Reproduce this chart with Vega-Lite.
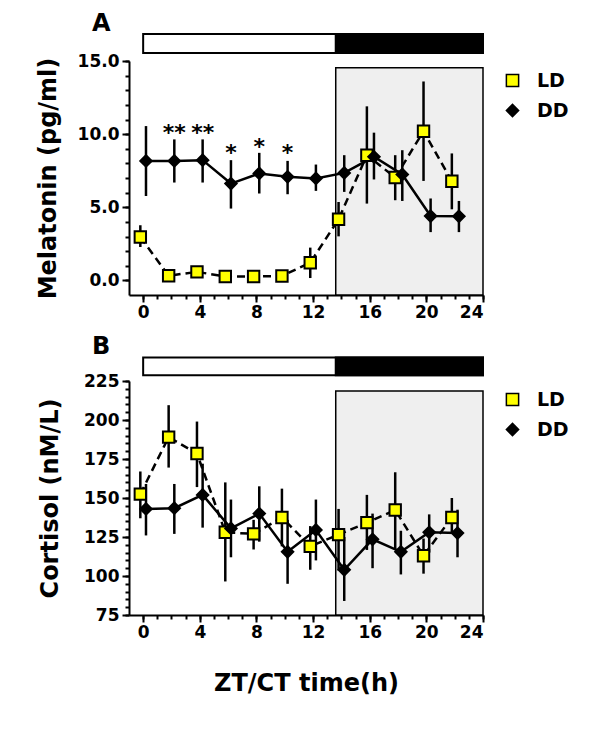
{
  "$schema": "https://vega.github.io/schema/vega-lite/v6.json",
  "background": "white",
  "padding": {"left": 36, "top": 11, "right": 5, "bottom": 5},
  "spacing": 86,
  "bounds": "flush",
  "datasets": {
    "mel": [
      {"group": "LD", "t": -0.2, "v": 2.97, "lo": 2.28, "hi": 3.77},
      {"group": "LD", "t": 1.8, "v": 0.32, "lo": 0.12, "hi": 0.52},
      {"group": "LD", "t": 3.8, "v": 0.58, "lo": 0.38, "hi": 0.8},
      {"group": "LD", "t": 5.8, "v": 0.27, "lo": 0.1, "hi": 0.45},
      {"group": "LD", "t": 7.8, "v": 0.27, "lo": 0.1, "hi": 0.45},
      {"group": "LD", "t": 9.8, "v": 0.3, "lo": 0.1, "hi": 0.5},
      {"group": "LD", "t": 11.8, "v": 1.21, "lo": 0.16, "hi": 2.24},
      {"group": "LD", "t": 13.8, "v": 4.18, "lo": 3.01, "hi": 5.36},
      {"group": "LD", "t": 15.8, "v": 8.56, "lo": 5.25, "hi": 11.9},
      {"group": "LD", "t": 17.8, "v": 7.03, "lo": 5.48, "hi": 8.56},
      {"group": "LD", "t": 19.8, "v": 10.2, "lo": 6.8, "hi": 13.6},
      {"group": "LD", "t": 21.8, "v": 6.78, "lo": 4.86, "hi": 8.68},
      {"group": "DD", "t": 0.2, "v": 8.17, "lo": 5.77, "hi": 10.55},
      {"group": "DD", "t": 2.2, "v": 8.17, "lo": 6.69, "hi": 9.64},
      {"group": "DD", "t": 4.2, "v": 8.22, "lo": 6.69, "hi": 9.64},
      {"group": "DD", "t": 6.2, "v": 6.62, "lo": 4.91, "hi": 8.22},
      {"group": "DD", "t": 8.2, "v": 7.31, "lo": 5.94, "hi": 8.72},
      {"group": "DD", "t": 10.2, "v": 7.08, "lo": 5.89, "hi": 8.17},
      {"group": "DD", "t": 12.2, "v": 6.97, "lo": 6.12, "hi": 7.92},
      {"group": "DD", "t": 14.2, "v": 7.35, "lo": 6.05, "hi": 8.56},
      {"group": "DD", "t": 16.3, "v": 8.45, "lo": 6.9, "hi": 10.1},
      {"group": "DD", "t": 18.3, "v": 7.24, "lo": 5.43, "hi": 8.9},
      {"group": "DD", "t": 20.3, "v": 4.4, "lo": 3.3, "hi": 5.6},
      {"group": "DD", "t": 22.3, "v": 4.38, "lo": 3.3, "hi": 5.43}
    ],
    "cort": [
      {"group": "LD", "t": -0.2, "v": 152.5, "lo": 137, "hi": 167},
      {"group": "LD", "t": 1.8, "v": 189, "lo": 169.5, "hi": 209.5},
      {"group": "LD", "t": 3.8, "v": 178.5, "lo": 157, "hi": 199},
      {"group": "LD", "t": 5.8, "v": 128, "lo": 96.5, "hi": 160},
      {"group": "LD", "t": 7.8, "v": 127, "lo": 117, "hi": 136},
      {"group": "LD", "t": 9.8, "v": 137.5, "lo": 119, "hi": 156},
      {"group": "LD", "t": 11.8, "v": 119, "lo": 104, "hi": 132},
      {"group": "LD", "t": 13.8, "v": 126.5, "lo": 103.5, "hi": 143},
      {"group": "LD", "t": 15.8, "v": 134.2, "lo": 116.7, "hi": 152},
      {"group": "LD", "t": 17.8, "v": 142.3, "lo": 117, "hi": 166.5},
      {"group": "LD", "t": 19.8, "v": 113, "lo": 101.5, "hi": 124},
      {"group": "LD", "t": 21.8, "v": 137.5, "lo": 128, "hi": 150},
      {"group": "DD", "t": 0.2, "v": 143, "lo": 126, "hi": 159},
      {"group": "DD", "t": 2.2, "v": 143.5, "lo": 127, "hi": 159},
      {"group": "DD", "t": 4.2, "v": 152, "lo": 131, "hi": 172},
      {"group": "DD", "t": 6.2, "v": 130.5, "lo": 112, "hi": 149},
      {"group": "DD", "t": 8.2, "v": 140, "lo": 122, "hi": 157.5},
      {"group": "DD", "t": 10.2, "v": 115.5, "lo": 95, "hi": 136},
      {"group": "DD", "t": 12.2, "v": 129.5, "lo": 110, "hi": 149},
      {"group": "DD", "t": 14.2, "v": 104, "lo": 84, "hi": 125},
      {"group": "DD", "t": 16.2, "v": 123.5, "lo": 105, "hi": 140},
      {"group": "DD", "t": 18.2, "v": 115.5, "lo": 101, "hi": 129},
      {"group": "DD", "t": 20.2, "v": 128, "lo": 115, "hi": 139.5},
      {"group": "DD", "t": 22.2, "v": 127.5, "lo": 112, "hi": 142.5}
    ],
    "stars": [
      {"t": 2.2, "y": 10.43, "s": "**"},
      {"t": 4.2, "y": 10.43, "s": "**"},
      {"t": 6.2, "y": 9.06, "s": "*"},
      {"t": 8.2, "y": 9.43, "s": "*"},
      {"t": 10.2, "y": 9.02, "s": "*"}
    ]
  },
  "resolve": {"scale": {"fill": "independent", "shape": "independent"}},
  "vconcat": [
    {
      "width": 354,
      "height": 234,
      "title": {"text": "A", "anchor": "start", "frame": "group", "dx": -37, "offset": -3},
      "resolve": {"axis": {"x": "independent", "y": "independent"}},
      "layer": [
        {
          "data": {"values": [{}]},
          "mark": {"type": "rect", "fill": "#efefef", "stroke": "black", "strokeWidth": 1.5},
          "encoding": {
            "x": {"datum": 13.6, "type": "quantitative", "scale": {"domain": [-1, 24], "nice": false, "zero": false},
                  "axis": {"orient": "bottom", "values": [0,1,2,3,4,5,6,7,8,9,10,11,12,13,14,15,16,17,18,19,20,21,22,23,24], "tickSize": 4, "labels": false, "domain": false, "title": null}},
            "x2": {"datum": 24},
            "y": {"datum": -1, "type": "quantitative", "scale": {"domain": [-1, 15], "nice": false, "zero": false},
                  "axis": {"orient": "left", "values": [0,1,2,3,4,5,6,7,8,9,10,11,12,13,14,15], "tickSize": 4, "labels": false, "domain": false, "title": null}},
            "y2": {"datum": 14.54}
          }
        },
        {
          "data": {"values": [{}]},
          "mark": {"type": "rect", "fill": "white", "stroke": "black", "strokeWidth": 2},
          "encoding": {
            "x": {"datum": 0, "type": "quantitative", "axis": null},
            "x2": {"datum": 24},
            "y": {"datum": 16.85, "type": "quantitative", "axis": null},
            "y2": {"datum": 15.55}
          }
        },
        {
          "data": {"values": [{}]},
          "mark": {"type": "rect", "fill": "black", "stroke": "black", "strokeWidth": 2},
          "encoding": {
            "x": {"datum": 13.6, "type": "quantitative", "axis": null},
            "x2": {"datum": 24},
            "y": {"datum": 16.85, "type": "quantitative", "axis": null},
            "y2": {"datum": 15.55}
          }
        },
        {
          "data": {"name": "mel"},
          "mark": {"type": "rule", "color": "black", "strokeWidth": 2.5},
          "encoding": {
            "x": {"field": "t", "type": "quantitative",
                  "axis": {"orient": "bottom", "values": [0,4,8,12,16,20,24], "tickSize": 7, "labelPadding": 2, "title": null}},
            "y": {"field": "lo", "type": "quantitative",
                  "axis": {"orient": "left", "values": [0,5,10,15], "format": ".1f", "tickSize": 7, "labelPadding": 3, "title": "Melatonin (pg/ml)", "titlePadding": 17}},
            "y2": {"field": "hi"}
          }
        },
        {
          "data": {"name": "mel"},
          "transform": [{"filter": "datum.group === 'LD'"}],
          "mark": {"type": "line", "color": "black", "strokeWidth": 2.5, "strokeDash": [8, 5]},
          "encoding": {
            "x": {"field": "t", "type": "quantitative", "axis": null},
            "y": {"field": "v", "type": "quantitative", "axis": null}
          }
        },
        {
          "data": {"name": "mel"},
          "transform": [{"filter": "datum.group === 'DD'"}],
          "mark": {"type": "line", "color": "black", "strokeWidth": 2.5},
          "encoding": {
            "x": {"field": "t", "type": "quantitative", "axis": null},
            "y": {"field": "v", "type": "quantitative", "axis": null}
          }
        },
        {
          "data": {"name": "mel"},
          "mark": {"type": "point", "filled": true, "stroke": "black", "strokeWidth": 2, "size": 130, "opacity": 1},
          "encoding": {
            "x": {"field": "t", "type": "quantitative", "axis": null},
            "y": {"field": "v", "type": "quantitative", "axis": null},
            "shape": {"field": "group", "type": "nominal", "scale": {"domain": ["LD", "DD"], "range": ["square", "diamond"]},
                      "legend": {"orient": "none", "legendX": 374, "legendY": 10, "title": null, "symbolSize": 150, "rowPadding": 10, "labelOffset": 15,
                                 "encode": {"symbols": {"stroke": {"value": "black"}, "strokeWidth": {"value": 2}}}}},
            "fill": {"field": "group", "type": "nominal", "scale": {"domain": ["LD", "DD"], "range": ["#ffff00", "#000000"]},
                     "legend": {"orient": "none", "legendX": 374, "legendY": 10, "title": null, "symbolSize": 150, "rowPadding": 10, "labelOffset": 15,
                                "encode": {"symbols": {"stroke": {"value": "black"}, "strokeWidth": {"value": 2}}}}}
          }
        },
        {
          "data": {"name": "stars"},
          "mark": {"type": "text", "fontSize": 22, "fontWeight": "bold", "baseline": "alphabetic", "dy": 12, "color": "black"},
          "encoding": {
            "x": {"field": "t", "type": "quantitative", "axis": null},
            "y": {"field": "y", "type": "quantitative", "axis": null},
            "text": {"field": "s"}
          }
        }
      ]
    },
    {
      "width": 354,
      "height": 234,
      "title": {"text": "B", "anchor": "start", "frame": "group", "dx": -37, "offset": -2},
      "resolve": {"axis": {"x": "independent", "y": "independent"}},
      "layer": [
        {
          "data": {"values": [{}]},
          "mark": {"type": "rect", "fill": "#efefef", "stroke": "black", "strokeWidth": 1.5},
          "encoding": {
            "x": {"datum": 13.6, "type": "quantitative", "scale": {"domain": [-1, 24], "nice": false, "zero": false},
                  "axis": {"orient": "bottom", "values": [0,1,2,3,4,5,6,7,8,9,10,11,12,13,14,15,16,17,18,19,20,21,22,23,24], "tickSize": 4, "labels": false, "domain": false, "title": null}},
            "x2": {"datum": 24},
            "y": {"datum": 75, "type": "quantitative", "scale": {"domain": [75, 225], "nice": false, "zero": false},
                  "axis": {"orient": "left", "values": [75,80,85,90,95,100,105,110,115,120,125,130,135,140,145,150,155,160,165,170,175,180,185,190,195,200,205,210,215,220,225], "tickSize": 4, "labels": false, "domain": false, "title": null}},
            "y2": {"datum": 218.6}
          }
        },
        {
          "data": {"values": [{}]},
          "mark": {"type": "rect", "fill": "white", "stroke": "black", "strokeWidth": 2},
          "encoding": {
            "x": {"datum": 0, "type": "quantitative", "axis": null},
            "x2": {"datum": 24},
            "y": {"datum": 240, "type": "quantitative", "axis": null},
            "y2": {"datum": 228.7}
          }
        },
        {
          "data": {"values": [{}]},
          "mark": {"type": "rect", "fill": "black", "stroke": "black", "strokeWidth": 2},
          "encoding": {
            "x": {"datum": 13.6, "type": "quantitative", "axis": null},
            "x2": {"datum": 24},
            "y": {"datum": 240, "type": "quantitative", "axis": null},
            "y2": {"datum": 228.7}
          }
        },
        {
          "data": {"name": "cort"},
          "mark": {"type": "rule", "color": "black", "strokeWidth": 2.5},
          "encoding": {
            "x": {"field": "t", "type": "quantitative",
                  "axis": {"orient": "bottom", "values": [0,4,8,12,16,20,24], "tickSize": 7, "labelPadding": 2, "title": "ZT/CT time(h)", "titlePadding": 31}},
            "y": {"field": "lo", "type": "quantitative",
                  "axis": {"orient": "left", "values": [75,100,125,150,175,200,225], "tickSize": 7, "labelPadding": 3, "title": "Cortisol (nM/L)", "titlePadding": 21}},
            "y2": {"field": "hi"}
          }
        },
        {
          "data": {"name": "cort"},
          "transform": [{"filter": "datum.group === 'LD'"}],
          "mark": {"type": "line", "color": "black", "strokeWidth": 2.5, "strokeDash": [8, 5]},
          "encoding": {
            "x": {"field": "t", "type": "quantitative", "axis": null},
            "y": {"field": "v", "type": "quantitative", "axis": null}
          }
        },
        {
          "data": {"name": "cort"},
          "transform": [{"filter": "datum.group === 'DD'"}],
          "mark": {"type": "line", "color": "black", "strokeWidth": 2.5},
          "encoding": {
            "x": {"field": "t", "type": "quantitative", "axis": null},
            "y": {"field": "v", "type": "quantitative", "axis": null}
          }
        },
        {
          "data": {"name": "cort"},
          "mark": {"type": "point", "filled": true, "stroke": "black", "strokeWidth": 2, "size": 130, "opacity": 1},
          "encoding": {
            "x": {"field": "t", "type": "quantitative", "axis": null},
            "y": {"field": "v", "type": "quantitative", "axis": null},
            "shape": {"field": "group", "type": "nominal", "scale": {"domain": ["LD", "DD"], "range": ["square", "diamond"]},
                      "legend": {"orient": "none", "legendX": 374, "legendY": 9, "title": null, "symbolSize": 150, "rowPadding": 10, "labelOffset": 15,
                                 "encode": {"symbols": {"stroke": {"value": "black"}, "strokeWidth": {"value": 2}}}}},
            "fill": {"field": "group", "type": "nominal", "scale": {"domain": ["LD", "DD"], "range": ["#ffff00", "#000000"]},
                     "legend": {"orient": "none", "legendX": 374, "legendY": 9, "title": null, "symbolSize": 150, "rowPadding": 10, "labelOffset": 15,
                                "encode": {"symbols": {"stroke": {"value": "black"}, "strokeWidth": {"value": 2}}}}}
          }
        }
      ]
    }
  ],
  "config": {
    "font": "DejaVu Sans",
    "view": {"stroke": null},
    "title": {"font": "DejaVu Sans", "fontSize": 24, "fontWeight": "bold", "color": "black"},
    "axis": {
      "labelFont": "DejaVu Sans", "labelFontSize": 17, "labelFontWeight": "bold", "labelColor": "black",
      "titleFont": "DejaVu Sans", "titleFontSize": 24, "titleFontWeight": "bold", "titleColor": "black",
      "domainColor": "black", "domainWidth": 2, "tickColor": "black", "tickWidth": 2, "grid": false
    },
    "legend": {"labelFont": "DejaVu Sans", "labelFontSize": 19, "labelFontWeight": "bold", "labelColor": "black"}
  }
}
